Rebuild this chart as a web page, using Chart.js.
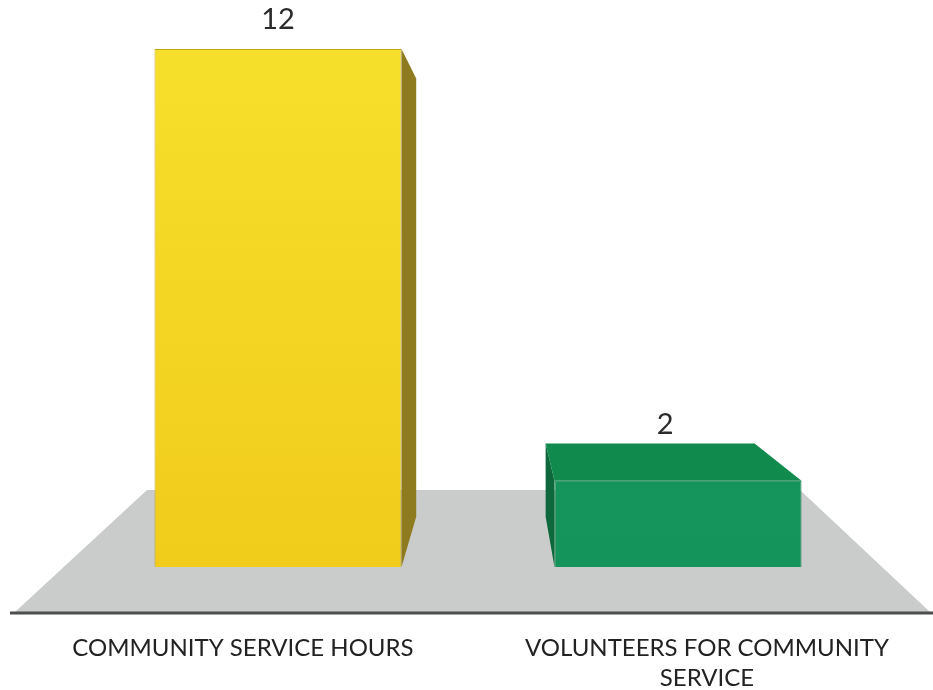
<!DOCTYPE html>
<html lang="en">
    <head>
        <meta charset="UTF-8" />
        <title>Community Service</title>
        <script src="https://cdn.jsdelivr.net/npm/chart.js@4.4.0/dist/chart.umd.min.js"></script>
        <style>
            body { margin: 0; background: #fff; }
        </style>
    </head>
    <body>
        <canvas id="serviceChart" width="933" height="690"></canvas>
        <script>
            const categories = [
                ['COMMUNITY SERVICE HOURS'],
                ['VOLUNTEERS FOR COMMUNITY', 'SERVICE']
            ];
            const serviceValues = [12, 2];
            const frontColors = [['#F6DF2C', '#F1CC1B'], ['#17995B', '#14935A']];
            const sideColors = ['#8E7B1F', '#0D693B'];
            const topColors = ['#E8CC1A', '#118A4D'];
            const edgeColors = ['#BFA512', '#10804A'];

            // fake 3d: faces pulled toward a vanishing point behind the chart
            const depthScale = 0.846;
            const frontScale = 1.16;
            const vanish = { x: 497, y: 240 };

            function toBack(x, y) {
                return {
                    x: vanish.x + depthScale * (x - vanish.x),
                    y: vanish.y + depthScale * (y - vanish.y)
                };
            }

            function poly(ctx, pts, color) {
                ctx.beginPath();
                ctx.moveTo(pts[0].x, pts[0].y);
                for (let i = 1; i < pts.length; i++) ctx.lineTo(pts[i].x, pts[i].y);
                ctx.closePath();
                ctx.fillStyle = color;
                ctx.fill();
            }

            const floorPlugin = {
                id: 'floor',
                beforeDatasetsDraw(chart) {
                    const ctx = chart.ctx;
                    const area = chart.chartArea;
                    const w = chart.width;
                    ctx.save();
                    poly(ctx, [
                        { x: 147, y: area.bottom - 77 },
                        { x: 800, y: area.bottom - 77 },
                        { x: w - 3, y: area.bottom + 45 },
                        { x: 15, y: area.bottom + 45 }
                    ], '#CACCCC');
                    ctx.strokeStyle = '#4d4d4d';
                    ctx.lineWidth = 3;
                    ctx.beginPath();
                    ctx.moveTo(10, area.bottom + 46);
                    ctx.lineTo(w, area.bottom + 46);
                    ctx.stroke();

                    // category names sit on the front edge of the floor
                    const xScale = chart.scales.x;
                    ctx.fillStyle = '#222';
                    ctx.font = '24px Lato';
                    ctx.textAlign = 'center';
                    ctx.textBaseline = 'middle';
                    chart.data.labels.forEach((lines, i) => {
                        const cx = xScale.getPixelForValue(i);
                        const lx = vanish.x + frontScale * (cx - vanish.x);
                        lines.forEach((line, j) => {
                            ctx.fillText(line, lx, area.bottom + 81 + j * 30);
                        });
                    });
                    ctx.restore();
                }
            };

            const boxPlugin = {
                id: 'box3d',
                afterDatasetsDraw(chart) {
                    const ctx = chart.ctx;
                    const meta = chart.getDatasetMeta(0);
                    ctx.save();
                    meta.data.forEach((bar, i) => {
                        const p = bar.getProps(['x', 'y', 'base', 'width'], true);
                        const l = p.x - p.width / 2;
                        const r = p.x + p.width / 2;
                        const t = p.y;
                        const b = p.base;
                        let labelX = p.x;
                        let labelY = t - 20;
                        if (r < vanish.x) {
                            // right side visible
                            poly(ctx, [{ x: r, y: t }, toBack(r, t), toBack(r, b), { x: r, y: b }], sideColors[i]);
                        }
                        if (l > vanish.x) {
                            // left side visible
                            poly(ctx, [{ x: l, y: t }, toBack(l, t), toBack(l, b), { x: l, y: b }], sideColors[i]);
                        }
                        if (t > vanish.y) {
                            // top face visible
                            const bl = toBack(l, t);
                            const br = toBack(r, t);
                            poly(ctx, [{ x: l, y: t }, bl, br, { x: r, y: t }], topColors[i]);
                            labelX = (bl.x + br.x) / 2 + 15;
                            labelY = bl.y - 10;
                        }
                        ctx.fillStyle = '#2b2b2b';
                        ctx.font = '29px Lato';
                        ctx.textAlign = 'center';
                        ctx.textBaseline = 'alphabetic';
                        ctx.fillText(String(serviceValues[i]), labelX, labelY);
                    });
                    ctx.restore();
                }
            };

            const ctx = document.getElementById('serviceChart').getContext('2d');
            const serviceChart = new Chart(ctx, {
                type: 'bar',
                data: {
                    labels: categories,
                    datasets: [{
                        data: serviceValues,
                        backgroundColor(c) {
                            const area = c.chart.chartArea;
                            const cols = frontColors[c.dataIndex];
                            if (!area || !cols) return '#F3D61F';
                            const g = c.chart.ctx.createLinearGradient(0, area.top, 0, area.bottom);
                            g.addColorStop(0, cols[0]);
                            g.addColorStop(1, cols[1]);
                            return g;
                        },
                        borderColor: edgeColors,
                        borderWidth: 1,
                        barPercentage: 0.6175,
                        categoryPercentage: 1
                    }]
                },
                options: {
                    responsive: false,
                    animation: false,
                    layout: {
                        padding: { left: 78, right: 55, top: 49, bottom: 123 }
                    },
                    plugins: {
                        legend: { display: false },
                        tooltip: { enabled: false }
                    },
                    scales: {
                        x: {
                            display: false
                        },
                        y: {
                            display: false,
                            min: 0,
                            max: 12
                        }
                    }
                },
                plugins: [floorPlugin, boxPlugin]
            });
        </script>
    </body>
</html>
